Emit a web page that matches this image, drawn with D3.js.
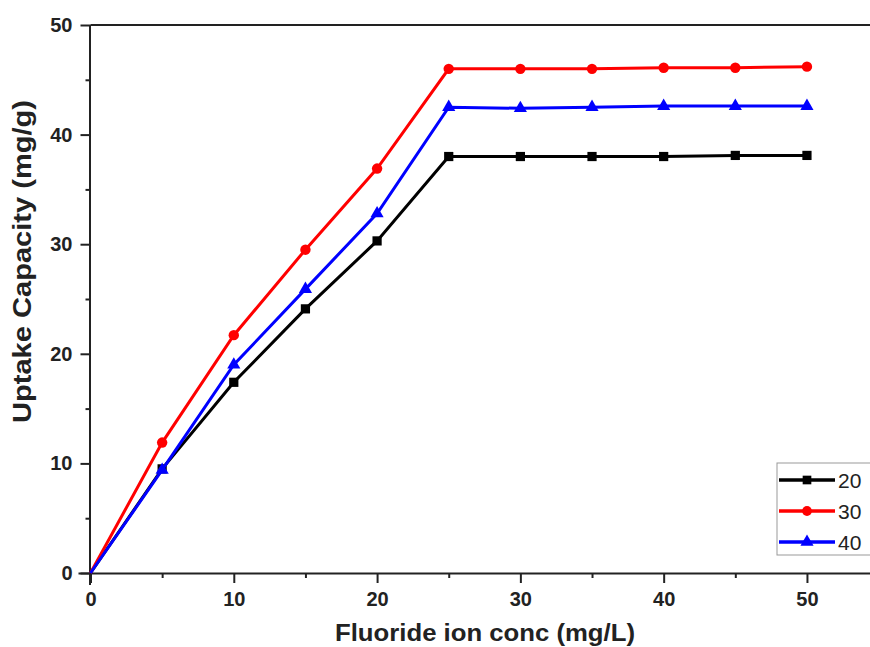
<!DOCTYPE html>
<html>
<head>
<meta charset="utf-8">
<script src="https://cdn.jsdelivr.net/npm/d3@7"></script>
<style>
  body { margin: 0; background: #fff; }
  svg { display: block; font-family: Arial, "Liberation Sans", sans-serif; }
</style>
</head>
<body>
<div id="chart"></div>
<script>
const width = 870,
    height = 647

// data
const conc = [0, 5, 10, 15, 20, 25, 30, 35, 40, 45, 50]
const uptake20 = [0, 9.5, 17.4, 24.1, 30.3, 38.0, 38.0, 38.0, 38.0, 38.1, 38.1]
const uptake30 = [0, 11.9, 21.7, 29.5, 36.9, 46.0, 46.0, 46.0, 46.1, 46.1, 46.2]
const uptake40 = [0, 9.4, 19.0, 25.9, 32.8, 42.5, 42.4, 42.5, 42.6, 42.6, 42.6]
const seriesNames = ['20', '30', '40']
const xTicks = [0, 10, 20, 30, 40, 50]
const yTicks = [0, 10, 20, 30, 40, 50]

const series = [
  { name: seriesNames[0], values: uptake20, color: '#000000', symbol: d3.symbolSquare },
  { name: seriesNames[1], values: uptake30, color: '#ff0000', symbol: d3.symbolCircle },
  { name: seriesNames[2], values: uptake40, color: '#0000ff', symbol: d3.symbolTriangle }
]

const svg = d3.select('#chart')
  .append('svg')
    .attr('width', width)
    .attr('height', height)

const x = d3.scaleLinear().domain([0, 55]).range([90.5, 878.6])
const y = d3.scaleLinear().domain([0, 50]).range([573, 25])

// minor ticks
svg.append('g')
  .attr('transform', `translate(0, ${y(0)})`)
  .call(d3.axisBottom(x).tickValues([5, 15, 25, 35, 45]).tickSize(5).tickFormat(''))
  .call(g => g.select('.domain').remove())
  .call(g => g.selectAll('line').attr('stroke', '#222').attr('stroke-width', 2))
svg.append('g')
  .attr('transform', `translate(${x(0)}, 0)`)
  .call(d3.axisLeft(y).tickValues([5, 15, 25, 35, 45]).tickSize(5).tickFormat(''))
  .call(g => g.select('.domain').remove())
  .call(g => g.selectAll('line').attr('stroke', '#222').attr('stroke-width', 2))

// x axis
svg.append('g')
  .attr('transform', `translate(0, ${y(0)})`)
  .call(d3.axisBottom(x).tickValues(xTicks).tickSize(10).tickPadding(9).tickSizeOuter(0))
  .call(g => g.select('.domain').attr('d', `M${x(0) - 12},0.5H${width}`).attr('stroke', '#222').attr('stroke-width', 2))
  .call(g => g.selectAll('line').attr('stroke', '#222').attr('stroke-width', 2))
  .call(g => g.selectAll('text').attr('fill', '#222').style('font-size', '20px').style('font-weight', 'bold'))

// y axis
svg.append('g')
  .attr('transform', `translate(${x(0)}, 0)`)
  .call(d3.axisLeft(y).tickValues(yTicks).tickSize(10).tickPadding(8).tickSizeOuter(0))
  .call(g => g.select('.domain').attr('d', `M-0.5,${y(0) + 12}V${y(50)}`).attr('stroke', '#222').attr('stroke-width', 2))
  .call(g => g.selectAll('line').attr('stroke', '#222').attr('stroke-width', 2))
  .call(g => g.selectAll('text').attr('fill', '#222').style('font-size', '20px').style('font-weight', 'bold'))

// top frame line
svg.append('line')
  .attr('x1', x(0)).attr('x2', width)
  .attr('y1', y(50)).attr('y2', y(50))
  .attr('stroke', '#222').attr('stroke-width', 2)

// lines + markers
const line = d3.line()
  .x((d, i) => x(conc[i]))
  .y(d => y(d))

series.forEach(s => {
  svg.append('path')
    .datum(s.values)
    .attr('d', line)
    .attr('fill', 'none')
    .attr('stroke', s.color)
    .attr('stroke-width', 3)

  svg.selectAll(null)
    .data(s.values.slice(1))
    .join('path')
    .attr('d', d3.symbol().type(s.symbol).size(s.symbol === d3.symbolTriangle ? 75 : 85))
    .attr('transform', (d, i) => `translate(${x(conc[i + 1])}, ${y(d)})`)
    .attr('fill', s.color)
})

// legend
const legend = svg.append('g')
  .attr('transform', 'translate(777, 463)')

legend.append('rect')
  .attr('x', 0).attr('y', 0)
  .attr('width', 100).attr('height', 92)
  .attr('fill', '#fff')
  .attr('stroke', '#999')
  .attr('stroke-width', 1)

series.forEach((s, i) => {
  const row = legend.append('g')
    .attr('transform', `translate(0, ${17 + i * 31})`)
  row.append('line')
    .attr('x1', 2).attr('x2', 58)
    .attr('stroke', s.color)
    .attr('stroke-width', 3.5)
  row.append('path')
    .attr('d', d3.symbol().type(s.symbol).size(75))
    .attr('transform', 'translate(30, 0)')
    .attr('fill', s.color)
  row.append('text')
    .attr('x', 61)
    .attr('dy', '0.36em')
    .style('font-size', '21px')
    .attr('fill', '#222')
    .text(s.name)
})

// axis titles
svg.append('text')
  .attr('x', 335)
  .attr('y', 641)
  .attr('textLength', 300)
  .attr('lengthAdjust', 'spacingAndGlyphs')
  .style('font-size', '23px')
  .style('font-weight', 'bold')
  .attr('fill', '#222')
  .text('Fluoride ion conc (mg/L)')

svg.append('text')
  .attr('transform', 'translate(31, 423) rotate(-90)')
  .attr('textLength', 323)
  .attr('lengthAdjust', 'spacingAndGlyphs')
  .style('font-size', '25px')
  .style('font-weight', 'bold')
  .attr('fill', '#222')
  .text('Uptake Capacity (mg/g)')
</script>
</body>
</html>
